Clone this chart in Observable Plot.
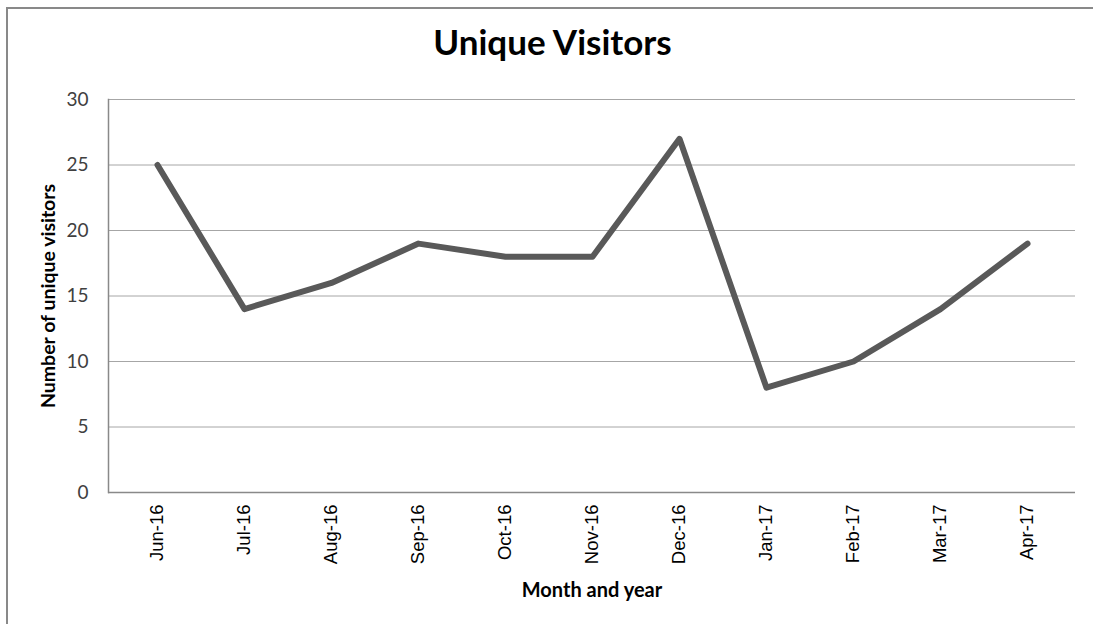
<!DOCTYPE html>
<html><head><meta charset="utf-8">
<script src="https://cdn.jsdelivr.net/npm/d3@7"></script>
<script src="https://cdn.jsdelivr.net/npm/@observablehq/plot@0.6"></script>
<style>
html,body{margin:0;background:#fff;overflow:hidden;}
#wrap{position:relative;width:1093px;height:624px;background:#fff;}
#hline{position:absolute;left:6px;top:7px;width:1087px;height:2px;background:#898989;}
#vline{position:absolute;left:6px;top:7px;width:2px;height:617px;background:#898989;}
#title{position:absolute;top:20px;left:0;width:1105px;text-align:center;font:bold 35px Lato, "Open Sans", sans-serif;line-height:42px;color:#000;}
#chart{position:absolute;left:0;top:0;}
</style></head>
<body>
<div id="wrap"><div id="hline"></div><div id="vline"></div><div id="title">Unique Visitors</div><div id="chart"></div></div>
<script>
const months = ["Jun-16","Jul-16","Aug-16","Sep-16","Oct-16","Nov-16","Dec-16","Jan-17","Feb-17","Mar-17","Apr-17"];
const visitors = [25,14,16,19,18,18,27,8,10,14,19];
const yTicks = [0,5,10,15,20,25,30];

const data = months.map((m,i)=>({month:m, value:visitors[i]}));

const chart = Plot.plot({
  width:1093, height:624,
  marginTop:99, marginBottom:132, marginLeft:108, marginRight:18,
  style:{fontFamily:"'Liberation Sans', Arial, sans-serif", fontSize:"18px", color:"#404040", background:"transparent"},
  x:{type:"point", domain:months, padding:0.5},
  y:{domain:[0,30]},
  marks:[
    Plot.gridY(yTicks,{stroke:"#a6a6a6", strokeOpacity:1, strokeWidth:1}),
    Plot.ruleY([0],{stroke:"#898989", strokeWidth:1.5}),
    Plot.frame({anchor:"left", stroke:"#898989", strokeWidth:1.5}),
    Plot.line(data,{x:"month", y:"value", stroke:"#595959", strokeWidth:6, strokeLinecap:"round", strokeLinejoin:"round"}),
    Plot.axisX({tickRotate:-90, tickSize:0, tickPadding:12, label:null, fontSize:18.5, fill:"#000"}),
    Plot.axisY(yTicks,{tickSize:0, tickPadding:20, label:null, fontSize:19, fontFamily:"Lato, sans-serif", fill:"#404040"}),
    Plot.text(["Number of unique visitors"],{frameAnchor:"left", textAnchor:"middle", dx:-60, rotate:-90, fontWeight:"bold", fontSize:19.5, fontFamily:"Lato, 'Open Sans', sans-serif", fill:"#000"}),
    Plot.text(["Month and year"],{frameAnchor:"bottom", dy:104, fontWeight:"bold", fontSize:20, fontFamily:"Lato, 'Open Sans', sans-serif", fill:"#000"})
  ]
});
document.getElementById("chart").appendChild(chart);
</script>
</body></html>
